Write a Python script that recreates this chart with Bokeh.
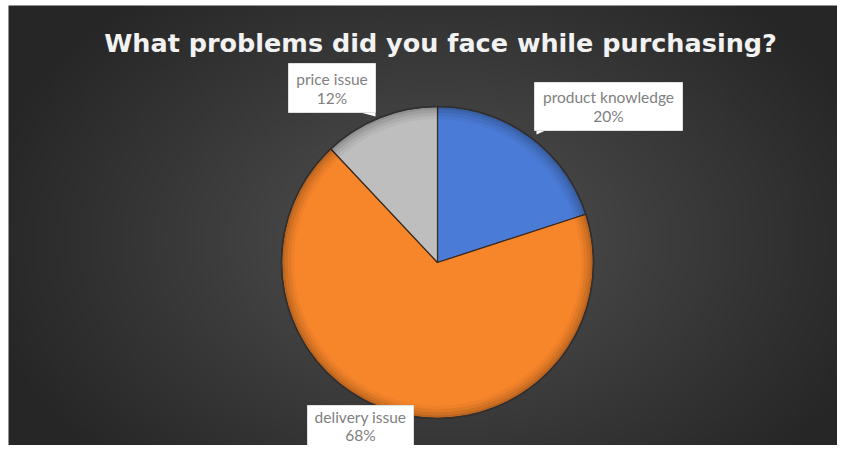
import numpy as np
from bokeh.plotting import figure
from bokeh.models import Range1d, Label, ColumnDataSource
from bokeh.embed import file_html
from bokeh.resources import INLINE

# ---- data ----
categories = ["product knowledge", "delivery issue", "price issue"]
shares = [20, 68, 12]
colors = ["#4A7BD6", "#F7862B", "#BEBEBE"]
title_text = "What problems did you face while purchasing?"

# ---- layout (1 data unit = 1 px; data y = H - screen y) ----
W, H = 837, 445
cx, cy, R = 437, H - 262, 156

p = figure(width=W, height=H, output_backend="svg", toolbar_location=None,
           x_range=Range1d(0, W), y_range=Range1d(0, H), min_border=0)
p.axis.visible = False
p.grid.visible = False
p.outline_line_color = None
p.background_fill_color = "white"
p.border_fill_color = "white"

# radial background gradient (decoration), starting after a thin white margin
bx0, btop = 8, 5
nx, ny = 210, 112
gx = np.linspace(bx0, W, nx)
gy = np.linspace(0, H - btop, ny)
XX, YY = np.meshgrid(gx, gy)
d = np.sqrt(((XX - 437) / 470.0) ** 2 + ((YY - (H - 240)) / 330.0) ** 2)
t = np.clip(d, 0, 1) ** 0.9
c_in, c_out = np.array([0x55, 0x55, 0x55]), np.array([0x26, 0x26, 0x26])
rgb = c_in[None, None, :] * (1 - t[..., None]) + c_out[None, None, :] * t[..., None]
img = np.zeros((ny, nx), dtype=np.uint32)
view = img.view(dtype=np.uint8).reshape((ny, nx, 4))
view[..., 0] = rgb[..., 0].astype(np.uint8)
view[..., 1] = rgb[..., 1].astype(np.uint8)
view[..., 2] = rgb[..., 2].astype(np.uint8)
view[..., 3] = 255
p.image_rgba(image=[img], x=bx0, y=0, dw=W - bx0, dh=H - btop)

# ---- pie ----
fr = np.array(shares, dtype=float) / sum(shares)
cum = np.concatenate([[0], np.cumsum(fr)])
starts = np.pi / 2 - cum[:-1] * 2 * np.pi
ends = np.pi / 2 - cum[1:] * 2 * np.pi
src = ColumnDataSource(dict(start=starts, end=ends, color=colors, cat=categories))
p.wedge(x=cx, y=cy, radius=R, start_angle="start", end_angle="end",
        direction="clock", fill_color="color", line_color="#3C2A1C",
        line_width=1.2, source=src)
# soft rim shading
for k, a in enumerate([0.04, 0.05, 0.07, 0.09]):
    p.annular_wedge(x=cx, y=cy, inner_radius=R * (0.92 + 0.02 * k), outer_radius=R,
                    start_angle=0, end_angle=2 * np.pi, fill_color="black",
                    fill_alpha=a, line_color=None)
p.circle(x=cx, y=cy, radius=R, fill_color=None, line_color="#303030", line_width=1.5)

# ---- data labels (box centres / sizes in screen px) ----
box_cx = [608, 360, 331.5]
box_cy = [106, 425, 87.5]
box_w = [148, 106, 87]
box_h = [48, 40, 49]
tails = [
    [(536, 130), (545, 130), (536, 134)],
    None,
    [(360, 112), (375, 112), (375, 116)],
]
for i, cat in enumerate(categories):
    lx, ly = box_cx[i], H - box_cy[i]
    if tails[i]:
        p.patch([q[0] for q in tails[i]], [H - q[1] for q in tails[i]],
                fill_color="white", line_color=None)
    p.rect(x=lx, y=ly, width=box_w[i], height=box_h[i], fill_color="white",
           line_color="#E0E0E0", line_width=1)
    off = 9.5 if i != 1 else 9
    p.add_layout(Label(x=lx, y=ly + off, text=cat, text_align="center",
                       text_baseline="middle", text_font="Lato",
                       text_font_size="15.5px", text_color="#808080"))
    p.add_layout(Label(x=lx, y=ly - off, text=f"{shares[i]}%", text_align="center",
                       text_baseline="middle", text_font="Lato",
                       text_font_size="15.5px", text_color="#808080"))

# ---- title ----
p.add_layout(Label(x=440, y=H - 42, text=title_text, text_align="center",
                   text_baseline="middle", text_font="DejaVu Sans",
                   text_font_style="bold", text_font_size="25.5px",
                   text_color="#F2F2F2"))

open("out.html", "w").write(file_html(p, INLINE))
